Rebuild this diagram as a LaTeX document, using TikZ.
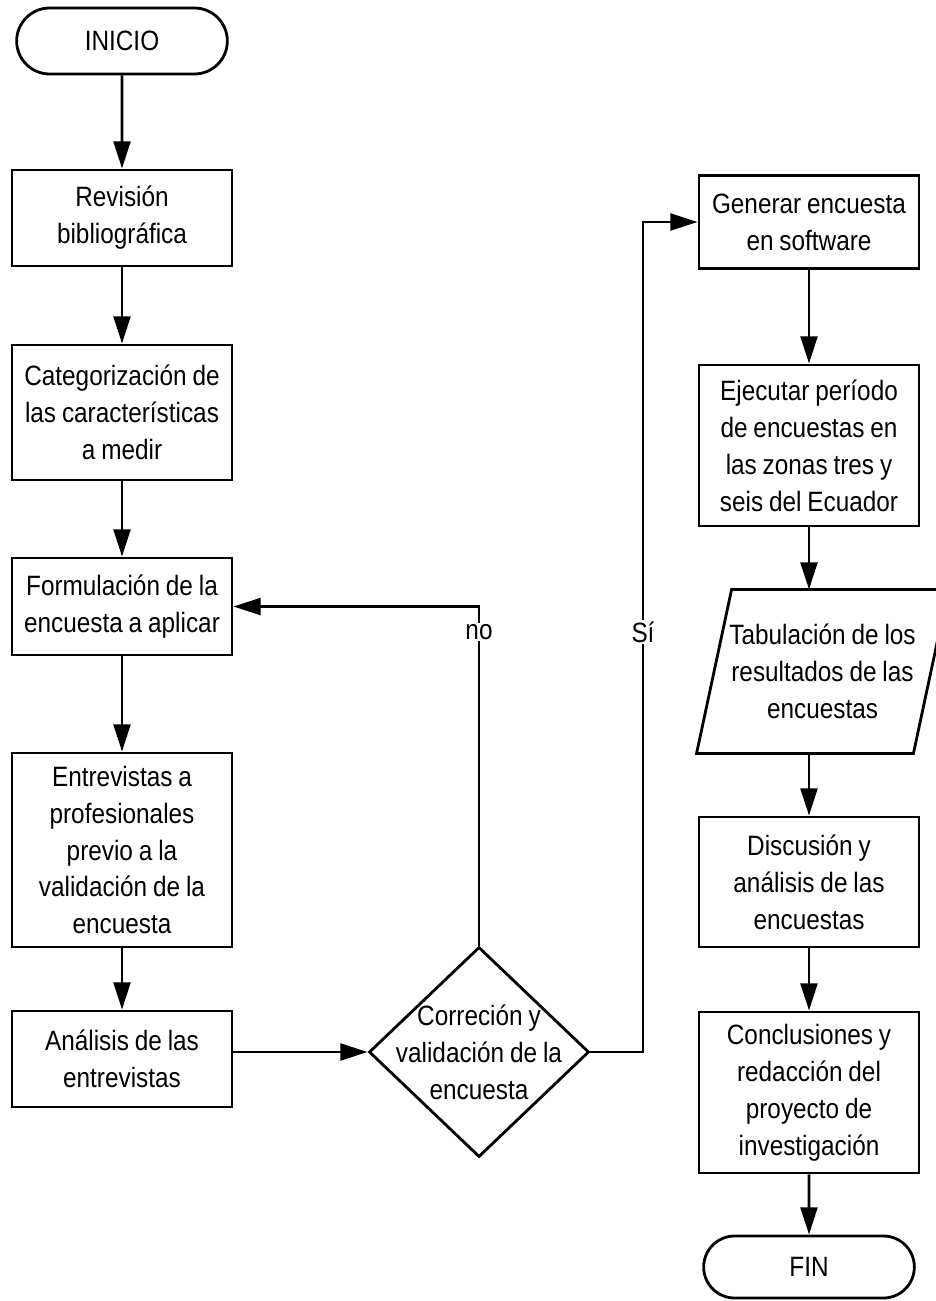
\documentclass[tikz,border=0pt]{standalone}
\usepackage{fontspec}
\setmainfont[FakeStretch=0.87, WordSpace=0.87]{Liberation Sans}
\usepackage{tikz}
\usetikzlibrary{calc, positioning, arrows.meta, shapes.misc, shapes.geometric}

\begin{document}
\begin{tikzpicture}[x=0.025cm, y=-0.025cm, line width=2pt,
	font=\fontsize{19.9}{26.3}\selectfont,
	box/.style={draw, rectangle, minimum width=5.5cm, align=center, inner sep=0.1cm},
	term/.style={draw, rounded rectangle, minimum width=5.5cm, minimum height=1.65cm},
	decision/.style={draw, diamond, minimum width=5.5cm, minimum height=5.25cm, inner sep=0pt},
	datos/.style={rectangle, minimum width=5.35cm, minimum height=4.025cm, align=center, inner sep=0pt},
	flow/.style={-{Triangle[width=0.42cm,length=0.68cm]}},
	lbl/.style={fill=white, inner sep=1pt}]
\useasboundingbox (0,0) rectangle (935,1301);
	% Columna izquierda
\node [term] (inicio) at (122,41) {INICIO};
\node [box, minimum height=2.4cm] (rev) at (122,218) {Revisión\\bibliográfica};
\node [box, minimum height=3.375cm] (cat) at (122,412.5) {Categorización de\\las características\\a medir};
\node [box, minimum height=2.425cm] (form) at (122,606.5) {Formulación de la\\encuesta a aplicar};
\node [box, minimum height=4.85cm] (entr) at (122,850) {Entrevistas a\\profesionales\\previo a la\\validación de la\\encuesta};
\node [box, minimum height=2.4cm] (anal) at (122,1059) {Análisis de las\\entrevistas};
\draw [flow] (inicio) -- (rev);
\draw [flow] (rev) -- (cat);
\draw [flow] (cat) -- (form);
\draw [flow] (form) -- (entr);
\draw [flow] (entr) -- (anal);

	% Columna derecha
\node [box, minimum height=2.325cm] (gen) at (809,222) {Generar encuesta\\en software};
\node [box, minimum height=4.025cm] (ejec) at (809,445.5) {Ejecutar período\\de encuestas en\\las zonas tres y\\seis del Ecuador};
\node [datos] (tab) at (822.5,671.5) {Tabulación de los\\resultados de las\\encuestas};
\draw ($(tab.north west)+(17.5,0)$) -- ($(tab.north east)+(17.5,0)$) -- ($(tab.south east)+(-17.5,0)$) -- ($(tab.south west)+(-17.5,0)$) -- cycle;
\node [box, minimum height=3.25cm] (disc) at (809,882) {Discusión y\\análisis de las\\encuestas};
\node [box, minimum height=4.025cm] (conc) at (809,1092.5) {Conclusiones y\\redacción del\\proyecto de\\investigación};
\node [term, minimum height=1.55cm] (fin) at (809,1267) {FIN};
\draw [flow] (gen) -- (ejec);
\draw [flow] (ejec.south) -- (ejec.south |- tab.north);
\draw [flow] (disc.north |- tab.south) -- (disc.north);
\draw [flow] (disc) -- (conc);
\draw [flow] (conc) -- (fin);

	% Decision
\node [decision, label={[align=center, inner sep=0pt]center:Correción y\\validación de la\\encuesta}] (dec) at (479,1052) {};
\coordinate (sicorner) at (643,222);
\draw [flow] (anal.east |- dec.west) -- (dec.west);
\draw [flow] (dec.north) |- node [lbl, pos=0.462] (no) {no} (form.east);
\draw [flow] (dec.east) -| node [lbl, pos=0.753] (si) {Sí} (sicorner) -- (gen.west);
\end{tikzpicture}
\end{document}
